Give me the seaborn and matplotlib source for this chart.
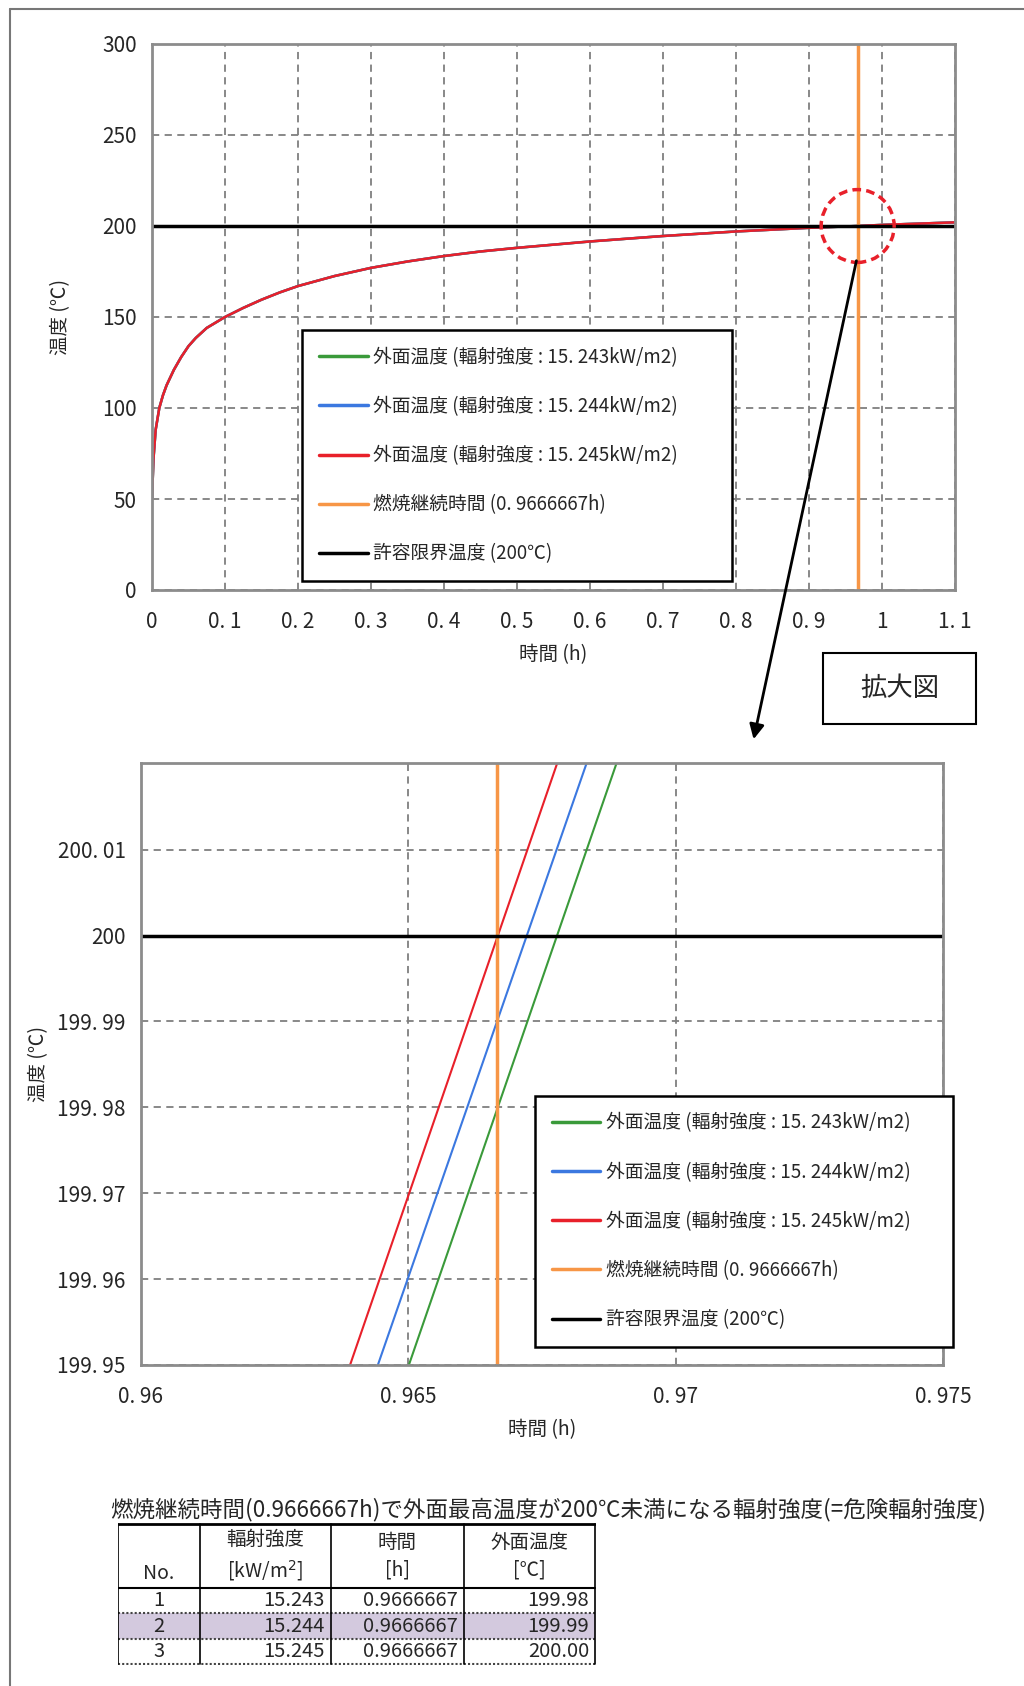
import numpy as np
import matplotlib
matplotlib.use("Agg")
import matplotlib.pyplot as plt
import matplotlib.patches as mpatches
import matplotlib.lines as mlines
import seaborn as sns

# --- data ---
# overview curve (the three flux cases overlap at this scale)
time_h = [0.0, 0.002, 0.005, 0.01, 0.015, 0.02, 0.03, 0.04, 0.05, 0.06, 0.075, 0.1,
          0.125, 0.15, 0.175, 0.2, 0.25, 0.3, 0.35, 0.4, 0.45, 0.5, 0.6, 0.7,
          0.8, 0.9, 0.9666667, 1.0, 1.1]
temp_c = [50, 72, 88, 100, 107, 112.5, 121, 128, 134, 138.5, 144, 150,
          155, 159.5, 163.5, 167, 172.5, 177, 180.5, 183.5, 186, 188, 191.5, 194.5,
          197, 199, 200, 200.6, 202]

# enlarged view: each case is a straight segment over the visible range
zoom_temp = [199.95, 200.02]
zoom_time_243 = [0.96501, 0.96889]
zoom_time_244 = [0.96443, 0.96833]
zoom_time_245 = [0.96391, 0.96778]

burn_time = 0.9666667
limit_temp = 200

series_labels = ["外面温度 (輻射強度 : 15. 243kW/m2)",
                 "外面温度 (輻射強度 : 15. 244kW/m2)",
                 "外面温度 (輻射強度 : 15. 245kW/m2)"]
burn_label = "燃焼継続時間 (0. 9666667h)"
limit_label = "許容限界温度 (200℃)"
series_colors = ["#3a9a3a", "#3b78e0", "#e8202a"]
orange = "#f79646"

top_xticks = [0, 0.1, 0.2, 0.3, 0.4, 0.5, 0.6, 0.7, 0.8, 0.9, 1.0, 1.1]
top_xlabels = ["0", "0. 1", "0. 2", "0. 3", "0. 4", "0. 5", "0. 6", "0. 7", "0. 8", "0. 9", "1", "1. 1"]
top_yticks = [0, 50, 100, 150, 200, 250, 300]
zoom_xticks = [0.96, 0.965, 0.97, 0.975]
zoom_xlabels = ["0. 96", "0. 965", "0. 97", "0. 975"]
zoom_yticks = [199.95, 199.96, 199.97, 199.98, 199.99, 200.0, 200.01]
zoom_ylabels = ["199. 95", "199. 96", "199. 97", "199. 98", "199. 99", "200", "200. 01"]

tab_title = "燃焼継続時間(0.9666667h)で外面最高温度が200℃未満になる輻射強度(=危険輻射強度)"
tab_head = ["No.", "輻射強度\n[kW/m$^2$]", "時間\n[h]", "外面温度\n[℃]"]
tab_no = ["1", "2", "3"]
tab_flux = ["15.243", "15.244", "15.245"]
tab_time = ["0.9666667", "0.9666667", "0.9666667"]
tab_temp = ["199.98", "199.99", "200.00"]

sns.set_style("white")
plt.rcParams['font.family'] = ['Noto Sans CJK JP', 'DejaVu Sans']

W, H = 1024, 1686
fig = plt.figure(figsize=(W / 100, H / 100), dpi=100)


def fx(px):
    return px / W


def fy(py):
    return 1 - py / H


def style_axes(ax):
    for s in ax.spines.values():
        s.set_color("#8c8c8c")
        s.set_linewidth(2)
    ax.grid(True, color="#7f7f7f", linestyle=(0, (4, 3)), linewidth=1.3)
    ax.tick_params(axis="both", direction="out", length=5, width=1.5,
                   color="#8c8c8c", labelsize=15, pad=6)
    ax.tick_params(axis="x", pad=10)


def make_legend(ax, box):
    leg = ax.legend(loc="lower left", bbox_to_anchor=box, mode="expand",
                    borderaxespad=0, fontsize=13.5, frameon=True, fancybox=False,
                    edgecolor="black", framealpha=1, labelspacing=1.5,
                    handlelength=2.6, borderpad=0.9, handletextpad=0.3)
    leg.get_frame().set_linewidth(1.8)
    for ln in leg.get_lines():
        ln.set_linewidth(2.5)


# ---------- overview chart ----------
ax1 = fig.add_axes([fx(152), fy(590), fx(803), 546 / H])
for lab, col in zip(series_labels, series_colors):
    sns.lineplot(x=time_h, y=temp_c, color=col, linewidth=1.8, ax=ax1, label=lab)
ax1.axvline(burn_time, color=orange, linewidth=2.5, label=burn_label)
ax1.axhline(limit_temp, color="black", linewidth=2.5, label=limit_label)
ax1.set_xlim(0, 1.1)
ax1.set_ylim(0, 300)
ax1.set_xticks(top_xticks)
ax1.set_xticklabels(top_xlabels)
ax1.set_yticks(top_yticks)
style_axes(ax1)
ax1.set_xlabel("時間 (h)", fontsize=14, labelpad=8)
ax1.set_ylabel("温度 (℃)", fontsize=14, labelpad=22)
make_legend(ax1, (0.187, 0.016, 0.535, 0.447))

# red dashed circle around the crossing point
ax1.add_patch(mpatches.Ellipse((burn_time, limit_temp), 0.1, 40, fill=False,
                               edgecolor="#e8202a", linestyle=(0, (2.5, 1.5)),
                               linewidth=2.5, clip_on=False, zorder=5))

# ---------- enlarged chart ----------
ax2 = fig.add_axes([fx(141), fy(1365), fx(802), 602 / H])
for t, lab, col in zip([zoom_time_243, zoom_time_244, zoom_time_245], series_labels, series_colors):
    sns.lineplot(x=t, y=zoom_temp, color=col, linewidth=1.5, ax=ax2, label=lab)
ax2.axvline(burn_time, color=orange, linewidth=2.5, label=burn_label)
ax2.axhline(limit_temp, color="black", linewidth=2.5, label=limit_label)
ax2.set_xlim(0.96, 0.975)
ax2.set_ylim(199.95, 200.0201)
ax2.set_xticks(zoom_xticks)
ax2.set_xticklabels(zoom_xlabels)
ax2.set_yticks(zoom_yticks)
ax2.set_yticklabels(zoom_ylabels)
style_axes(ax2)
ax2.set_xlabel("時間 (h)", fontsize=14, labelpad=8)
ax2.set_ylabel("温度 (℃)", fontsize=14, labelpad=6)
make_legend(ax2, (0.491, 0.03, 0.521, 0.402))

# ---------- arrow and "拡大図" box ----------
fig.patches.append(mpatches.FancyArrowPatch((857, H - 258), (753, H - 742),
                                            transform=None, arrowstyle="-|>",
                                            mutation_scale=22, color="black", linewidth=2))
fig.patches.append(mpatches.Rectangle((fx(823), fy(724)), fx(153), 71 / H,
                                      transform=fig.transFigure, fill=False,
                                      edgecolor="black", linewidth=1.5))
fig.text(fx(900), fy(689), "拡大図", fontsize=19, ha="center", va="center")

# page frame (left and top edges)
fig.add_artist(mlines.Line2D([fx(10), fx(10)], [0, fy(9)], color="#777777", linewidth=1.5))
fig.add_artist(mlines.Line2D([fx(10), 1], [fy(9), fy(9)], color="#777777", linewidth=1.5))

# ---------- table ----------
fig.text(fx(110), fy(1510), tab_title, fontsize=16.2, ha="left", va="center")
axt = fig.add_axes([fx(118), fy(1665), fx(478), 142 / H])
axt.set_xlim(118, 596)
axt.set_ylim(1665, 1523)
axt.axis("off")
col_x = [118, 200, 331, 464, 595]
row_y = [1524, 1588, 1613, 1639, 1664]
axt.add_patch(mpatches.Rectangle((col_x[0], row_y[2]), col_x[-1] - col_x[0], row_y[3] - row_y[2],
                                 facecolor="#d3c9de", edgecolor="none"))
axt.plot([col_x[0], col_x[-1]], [row_y[0], row_y[0]], color="black", lw=2)
axt.plot([col_x[0], col_x[-1]], [row_y[1], row_y[1]], color="black", lw=1.5)
for yy in row_y[2:]:
    axt.plot([col_x[0], col_x[-1]], [yy, yy], color="#444444", lw=1.5, linestyle=(0, (1, 1)))
for xx in col_x:
    axt.plot([xx, xx], [row_y[0], row_y[-1]], color="black", lw=1.2)

for i, h in enumerate(tab_head):
    xc = (col_x[i] + col_x[i + 1]) / 2
    if i == 0:
        axt.text(xc, row_y[1] - 4, h, fontsize=14, ha="center", va="bottom")
    else:
        axt.text(xc, (row_y[0] + row_y[1]) / 2, h, fontsize=14, ha="center", va="center",
                 linespacing=1.4)
for r in range(3):
    yc = (row_y[r + 1] + row_y[r + 2]) / 2
    axt.text((col_x[0] + col_x[1]) / 2, yc, tab_no[r], fontsize=14.5, ha="center", va="center")
    for c, vals in enumerate([tab_flux, tab_time, tab_temp], start=1):
        axt.text(col_x[c + 1] - 6, yc, vals[r], fontsize=14.5, ha="right", va="center")

fig.savefig("out.png", dpi=100)
